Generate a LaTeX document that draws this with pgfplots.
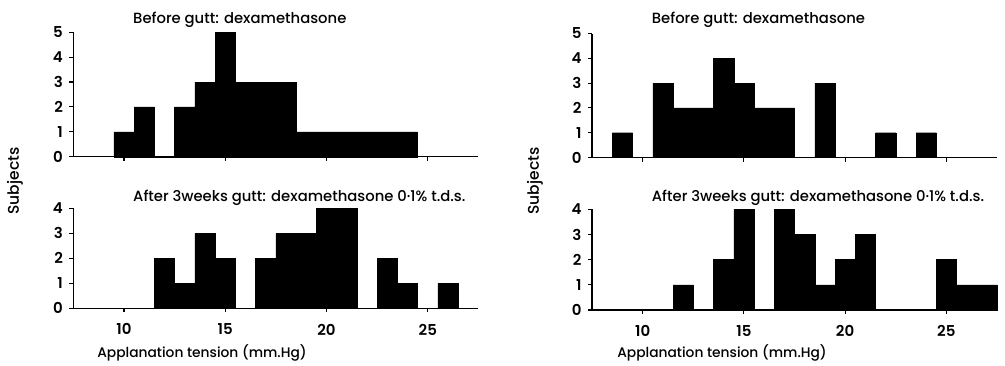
\documentclass[border=0pt]{standalone}
\usepackage{pgfplots}
\pgfplotsset{compat=1.18}
\usepackage{pgfplotstable}
\usepackage{fontspec}
\setmainfont{Poppins}[UprightFont={* Medium}, BoldFont={* SemiBold}]

% bin left edges (bins centred on integer mm Hg); last row closes the last bin
\pgfplotstableread{
x y
9.5 1
10.5 2
11.5 0
12.5 2
13.5 3
14.5 5
15.5 3
16.5 3
17.5 3
18.5 1
19.5 1
20.5 1
21.5 1
22.5 1
23.5 1
24.5 0
}\lefttop
\pgfplotstableread{
x y
11.5 2
12.5 1
13.5 3
14.5 2
15.5 0
16.5 2
17.5 3
18.5 3
19.5 4
20.5 4
21.5 0
22.5 2
23.5 1
24.5 0
25.5 1
26.5 0
}\leftbot
\pgfplotstableread{
x y
8.5 1
9.5 0
10.5 3
11.5 2
12.5 2
13.5 4
14.5 3
15.5 2
16.5 2
17.5 0
18.5 3
19.5 0
20.5 0
21.5 1
22.5 0
23.5 1
24.5 0
}\righttop
\pgfplotstableread{
x y
11.5 1
12.5 0
13.5 2
14.5 4
15.5 0
16.5 4
17.5 3
18.5 1
19.5 2
20.5 3
21.5 0
22.5 0
23.5 0
24.5 2
25.5 1
26.5 1
27.5 0
}\rightbot

\pgfplotsset{hist/.style={
  scale only axis, width=405pt,
  axis lines=left, axis line style={-, line width=1.2pt},
  tick align=outside, tick style={black, line width=1.1pt}, major tick length=4pt,
  xmin=7.5, xmax=27.5, ymin=0,
  xtick={10,15,20,25},
  /pgf/number format/assume math mode=true,
  ticklabel style={font=\fontsize{15}{15}\selectfont\bfseries},
  yticklabel style={xshift=-3pt},
  xticklabel style={yshift=-8pt},
  clip=false,
}}
\tikzset{lbl/.style={inner sep=0pt}}

\begin{document}
\begin{tikzpicture}[x=1pt,y=1pt]
\path[use as bounding box] (0,0) rectangle (1005,365);

% left top
\begin{axis}[hist, at={(73.4pt,208.3pt)}, anchor=south west, height=124.5pt,
  ymax=5, ytick={0,...,5}, xticklabels={}]
\addplot[ybar interval, fill=black, draw=black] table {\lefttop};
\end{axis}
% left bottom
\begin{axis}[hist, at={(73.4pt,56.7pt)}, anchor=south west, height=100pt,
  ymax=4, ytick={0,...,4}]
\addplot[ybar interval, fill=black, draw=black] table {\leftbot};
\end{axis}
% right top
\begin{axis}[hist, at={(592pt,207.5pt)}, anchor=south west, height=124pt,
  ymax=5, ytick={0,...,5}, xticklabels={}]
\addplot[ybar interval, fill=black, draw=black] table {\righttop};
\end{axis}
% right bottom
\begin{axis}[hist, at={(592pt,55pt)}, anchor=south west, height=100.7pt,
  ymax=4, ytick={0,...,4}]
\addplot[ybar interval, fill=black, draw=black] table {\rightbot};
\end{axis}

% titles and labels
\tikzset{ttl/.style={lbl, font=\fontsize{14.8}{15}\selectfont}}
\node[ttl, anchor=base west] at (133,341) {Before gutt: dexamethasone};
\node[ttl, anchor=base west] at (651.7,341) {Before gutt: dexamethasone};
\node[ttl, anchor=base west] at (133,163.3) {After 3weeks gutt: dexamethasone 0·1\% t.d.s.};
\node[ttl, anchor=base west] at (651.7,163.3) {After 3weeks gutt: dexamethasone 0·1\% t.d.s.};
\tikzset{xl/.style={lbl, font=\fontsize{13.8}{14}\selectfont}}
\node[xl, anchor=base] at (202,8) {Applanation tension (mm.Hg)};
\node[xl, anchor=base] at (722,8) {Applanation tension (mm.Hg)};
\node[lbl, rotate=90, font=\fontsize{15.5}{16}\selectfont] at (15,184) {Subjects};
\node[lbl, rotate=90, font=\fontsize{15.5}{16}\selectfont] at (535,184) {Subjects};
\end{tikzpicture}
\end{document}
